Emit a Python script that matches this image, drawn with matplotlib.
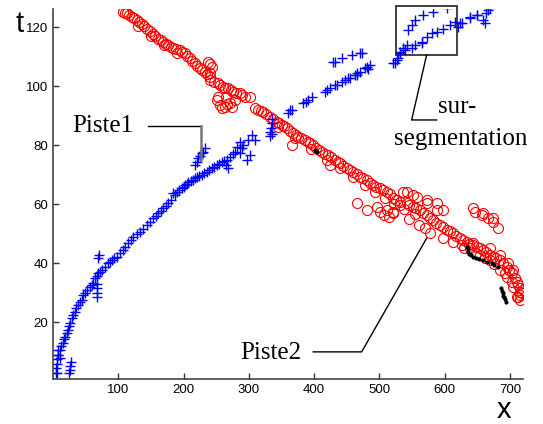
import matplotlib
matplotlib.use("Agg")
import matplotlib.pyplot as plt
from matplotlib.patches import Rectangle

# Piste1 (blue +) as (x, t)
piste1_x = [5, 5, 6, 6, 7, 8, 6, 10,
            25, 26, 26, 27,
            8, 10, 12, 15, 17, 18.4, 21, 23, 25, 26, 29, 31, 33.7, 36, 38.3, 41, 44.4, 46, 49, 52,
            56.7, 59, 61.3, 64.3, 67, 69, 72, 75, 79.6, 84, 87.3, 90, 94, 97.5, 102.6, 107, 111,
            115, 119, 123, 128, 133.3, 138, 143.5, 148, 153.6, 158, 161.3, 165, 169, 173, 176.6,
            180, 184.3, 187, 189.5, 193, 197, 200, 202, 205, 207, 211, 215, 218, 220, 224, 227.7,
            231, 235.4, 239, 243, 247, 250.7, 254, 258.4, 262, 266, 271, 275, 278.8, 281.4, 286.4,
            286.4, 289, 291.5, 296.7, 299, 301.7, 304.3, 309.4, 268.5, 265,
            67, 67, 67, 68, 69.4, 70,
            217.5, 220, 222.5, 225, 227.7, 230, 232.8,
            332, 333, 334, 335, 335, 336,
            360, 363, 365.6, 383.4, 387, 391, 396, 416.6, 419, 424, 432, 434.5, 442, 448, 452.3,
            455, 462.5, 465, 466, 470.2, 478, 480.4, 482, 485.5,
            429, 432, 442, 457.5, 470, 472.8,
            521, 523.8, 526.3, 529, 531.5, 531.5, 536.5, 539, 541.7, 549.4, 554.4, 564.7,
            544.2, 549.4, 554.4, 567.2, 582.5, 603,
            564.7, 572.4, 580, 587.7, 597.8, 608, 615.7, 620.8, 623.4, 626, 638.7, 649, 659,
            661.7, 664, 666.7, 669.3, 638.7, 649]
piste1_t = [3, 4.5, 6, 7.5, 9, 10.5, 2.8, 8,
            2.8, 4, 5.2, 6.5,
            9, 10.6, 12, 13, 14.2, 15, 16.3, 17.4, 18.6, 19.8, 21.5, 22.5, 23.5, 24.8, 25.9, 26.8,
            27.6, 29.3, 30, 31,
            32, 32.8, 33.3, 35, 35.8, 36.7, 37.2, 37.7, 38.7, 40, 40.5, 41.1, 41.8, 42.2, 43.5,
            44.5, 45.6,
            46.8, 47.8, 49, 49.8, 50.7, 51.8, 53, 54, 55.3, 56.2, 57, 57.8, 58.6, 59.5, 60.3,
            61.5, 63.7, 63, 64.3, 64.8, 65.4, 66, 66.5, 67, 67.7, 68, 68.2, 68.8, 69.4, 69.5, 69.9,
            70.5, 71, 71.6, 72.2, 72.8, 73.3, 73.8, 74.4, 74.8, 75, 76.1, 77, 77.8, 79.5, 77.3,
            81.2, 79, 80.1, 75, 81.8, 76.7, 83.5, 81.8, 72.2, 73.5,
            28.5, 30, 31.5, 33, 41.7, 43,
            73.3, 74.5, 75.6, 76.5, 77.3, 77.8, 79,
            83, 84.5, 86, 87.5, 89, 84,
            90.8, 92, 92, 94.2, 94.8, 95.4, 96.5, 98.2, 98.7, 99.3, 100.4, 100.4, 101.5, 102,
            102.7,
            102.7, 103.8, 103.8, 104.5, 105, 106.1, 106.6, 106, 107.2,
            108.3, 108.3, 109.5, 110.6, 111.2, 111.2,
            107.8, 107.8, 108.9, 109.5, 111.2, 111.7, 112.9, 112.3, 114, 112.9, 114, 114.6,
            119.1, 120.8, 122.5, 124.2, 125.3, 126.4,
            115.1, 116.8, 118, 118.5, 119.6, 120.8, 121.9, 120.2, 121.4, 121.4, 123, 124.2, 122.5,
            121.4, 124.7, 125.9, 126.4, 123.6, 124.2]

# Piste2 (red o)
piste2_x = [107.7, 110, 112.9, 116, 120.5, 124, 128.2, 132, 135.9, 140, 143.5, 148, 153.6, 157,
            161.3, 165, 169, 173, 176.6, 180, 184.3, 189, 194.5, 198, 202.2, 206, 209.8, 213,
            217.5, 221, 225, 229, 232.8, 236, 240.5, 237, 240, 243, 241, 240.5, 246, 253.2, 256,
            260.8, 264, 268.5, 272, 276.2, 281, 286.4, 290, 294, 301.7,
            250.7, 253.2, 255.8, 259, 263.4, 267, 271, 273.7, 278.8, 265,
            310, 314.4, 318, 322, 327, 332.4, 337, 342.6, 346, 350.3, 354, 358, 363, 368, 372,
            375.7, 380, 386, 390, 393.6, 398, 403, 407, 411.5, 416, 421.7, 426, 432, 436, 439.6,
            445, 449.8, 455, 460, 465, 470.2, 475, 480.4, 485, 490.6, 495, 500.8, 505, 511, 516,
            521.2, 526, 531.5, 536.5, 541.7, 546, 551.9, 551.9, 556, 562, 567, 572.3, 572.3, 577,
            582.5, 587.7, 587, 592.7, 598, 603, 608, 613, 618, 623.4, 628, 633.6, 638, 643.8,
            643.8, 649, 654, 659, 664, 669.3, 669, 674.4, 679, 684.6, 684.6, 690, 694.8, 697.4,
            699, 702.5, 705, 707, 710.2, 713, 715.3, 716, 715.3, 712.8, 718, 720,
            569.8, 577.4, 597.8, 626, 638.7, 654, 669.3, 684.6, 694.8, 705, 710.2, 715.3, 560,
            545,
            365.6, 424.2, 501, 507, 514, 521, 465, 480.4, 495.8, 511, 521.2, 531,
            541.7, 557, 572.3, 587.7, 597.8,
            643.8, 646.3, 656.6, 659, 666.7, 674.4, 674.4, 682,
            # second row of the thick band
            130, 150, 170, 190, 345, 370, 395, 420, 440, 460, 478, 494, 508, 522, 538, 555, 612,
            630, 648, 662, 676, 692, 703]
piste2_t = [125.3, 125, 124.7, 124.2, 123.5, 123, 122.4, 121.8, 121.2, 120.4, 119.6, 118.8,
            117.9, 117, 116.2, 115.6, 115.1, 114.5, 114, 113.5, 112.9, 112.6, 112.3, 111.8,
            111.2, 110.3, 109.5, 108.7, 107.8, 107, 106.1, 105.5, 105, 104.2, 103.3, 108.3,
            107.5, 106.6, 104.5, 102.1, 101.5, 101, 100.3, 99.8, 99.5, 99.3, 98.8, 98.2, 97.9,
            97.6, 97, 96.5, 96.5,
            95.4, 96.5, 93.7, 92.8, 93.1, 94, 94.2, 93.1, 95.4, 96.5,
            92.8, 92, 91.8, 91.4, 90.5, 89.7, 88.8, 88, 87.5, 86.9, 86.4, 85.8, 85, 84.1, 83.5,
            82.9, 82.4, 81.8, 81.2, 80.7, 80, 79.2, 78.5, 77.8, 77.2, 76.7, 75.9, 75, 74.4, 73.9,
            73, 72.2, 71.6, 71, 70.2, 69.4, 68.8, 68.2, 67.3, 66.5, 66, 65.4, 64.8, 64.3, 63.6,
            62, 61.5, 60.9, 64.3, 60.3, 59.8, 59.2, 63.2, 58.8, 58.1, 57.2, 56.4, 60.3, 55.5,
            54.7, 58.1, 53.8, 53, 52.2, 51.3, 50.8, 50.2, 49.3, 48.5, 47.9, 47.3, 46.7, 46.2,
            46.8, 45.6, 45.1, 44.5, 43.9, 45.1, 43, 42.2, 41.7, 41.1, 42.8, 40, 38.8, 40,
            37.7, 36.6, 37.7, 35.2, 33.8, 32.6, 31.5, 30.4, 29.3, 28.7, 30, 31,
            51.9, 50.2, 48.5, 46.2, 45.1, 42.8, 41.1, 37.7, 35.5, 32.1, 28.7, 27.6, 53, 55,
            80.1, 73.3, 57.5, 56.5, 55.8, 57, 60.3, 58.1, 59.2, 58.1, 57.5, 59.8,
            64.3, 62.6, 61.5, 60.3, 58.1,
            58.6, 57.5, 56.4, 57, 55.3, 54.1, 55.3, 51.9,
            120.5, 117.2, 113.9, 111.3, 86.2, 82.4, 78.8, 75.2, 72.3, 69.4, 66.6, 64.2, 62.3,
            60.2, 58.4, 56.6, 47.4, 45.3, 43.4, 41.9, 39.9, 36.9, 33.6]

# over-segmentation points (black dots)
extra_x = [401, 403, 405, 633.6, 635, 636, 638, 640, 643.8, 648, 652, 659, 665, 671.8, 676, 682,
           687, 688, 689, 690, 691, 692, 694]
extra_t = [78.5, 78.2, 77.8, 45.6, 44.8, 43.9, 43.3, 42.8, 42.2, 41.8, 41.6, 41.1, 40.6, 40,
           39.5, 38.8, 31.5, 30.5, 29.8, 29, 28.5, 28, 27]

x_ticks = [100, 200, 300, 400, 500, 600, 700]
t_ticks = [20, 40, 60, 80, 100, 120]

sans = "Liberation Sans"
serif = "Liberation Serif"

fig = plt.figure(figsize=(5.43, 4.24), dpi=100)
ax = fig.add_axes([0.0976, 0.1061, 0.8656, 0.8726])

ax.plot(piste2_x, piste2_t, "o", ls="none", mfc="none", mec="red", ms=7.2, mew=0.8)
ax.plot(piste1_x, piste1_t, "+", ls="none", color="blue", ms=7.5, mew=1.0)
ax.plot(extra_x, extra_t, ".", ls="none", color="black", ms=4)

ax.set_xlim(0, 720)
ax.set_ylim(0.8, 126.2)
ax.set_xticks(x_ticks)
ax.set_yticks(t_ticks)
ax.tick_params(direction="in", length=4, width=1, colors="#333333", labelsize=9.5,
               labelcolor="black")
for lab in ax.get_xticklabels() + ax.get_yticklabels():
    lab.set_family(sans)
ax.spines["top"].set_visible(False)
ax.spines["right"].set_visible(False)
for s in ("left", "bottom"):
    ax.spines[s].set_color("#444444")
    ax.spines[s].set_linewidth(1.2)

# axis names
fig.text(19.5 / 543, 1 - 24 / 424, "t", family=sans, fontsize=21, ha="center", va="center")
fig.text(504 / 543, 1 - 410 / 424, "x", family=sans, fontsize=21, ha="center", va="center")

# Piste1 callout
ax.text(76.6, 86.6, "Piste1", family=serif, fontsize=18, ha="center", va="center")
ax.plot([145.5, 226.7], [86.6, 86.6], color="black", lw=1, clip_on=False)
ax.plot([226.7, 226.7], [86.6, 75], color="#777777", lw=1.8, clip_on=False)

# sur-segmentation box and callout
ax.add_patch(Rectangle((525.3, 110.6), 93, 16.6, fill=False, ec="#333333", lw=1.3,
                       clip_on=False))
ax.plot([572.3, 549.4, 587.7], [110.6, 88.6, 88.6], color="black", lw=1, clip_on=False)
ax.text(619, 93, "sur-", family=serif, fontsize=18, ha="center", va="center")
ax.text(624, 82.3, "segmentation", family=serif, fontsize=18, ha="center", va="center")

# Piste2 callout
ax.text(333, 9.6, "Piste2", family=serif, fontsize=18, ha="center", va="center")
ax.plot([398.7, 472.8, 572.3], [10, 10, 48.5], color="black", lw=1, clip_on=False)

fig.savefig("out.png", dpi=100)
